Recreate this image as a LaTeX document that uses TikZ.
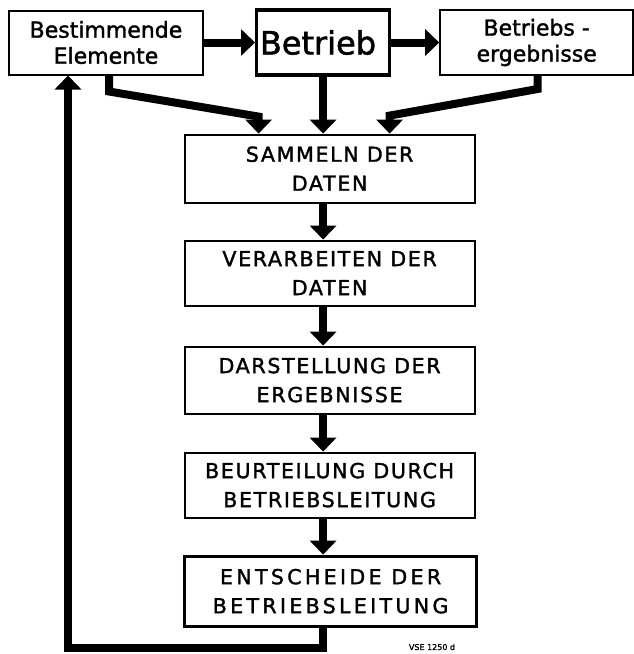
\documentclass[tikz,border=0pt]{standalone}
\usepackage{fontspec}
\setmainfont[FakeBold=1.6]{DejaVu Sans}
\newfontfamily\capsfont[LetterSpace=8,FakeBold=1.6]{DejaVu Sans}
\newfontfamily\widecapsfont[LetterSpace=16,FakeBold=1.6]{DejaVu Sans}
\usepackage{tikz}
\usetikzlibrary{shapes,arrows.meta,positioning,calc}

\tikzset{
    topbox/.style={rectangle, draw, line width=2pt, align=center, inner sep=0pt,
        minimum width=194pt, minimum height=64pt, font=\fontsize{22}{26}\selectfont},
    stagebox/.style={rectangle, draw, line width=2pt, align=center, inner sep=0pt,
        minimum width=290pt, minimum height=66pt, font=\capsfont\fontsize{20.6}{29}\selectfont},
    heavy/.style={line width=3.2pt},
    flow/.style={line width=8pt, -{Triangle[width=26pt,length=14pt]}}
}

\begin{document}
\begin{tikzpicture}[x=1pt, y=1pt]

    \useasboundingbox (0,0) rectangle (633,-654);

    	%-----Boxes-----
        % Bestimmende Elemente
        \node [topbox] (best) at (106,-42.5) {%
            Bestimmende \\
            Elemente
        };

        % Betrieb
        \node [topbox, heavy, minimum width=133pt, minimum height=65pt, right=51pt of best,
            font=\fontsize{32}{36}\selectfont] (betrieb) {%
            Betrieb
        };

        % Betriebsergebnisse
        \node [topbox, minimum width=193pt, minimum height=65pt, right=48pt of betrieb] (ergeb) {%
            Betriebs - \\
            ergebnisse
        };

        % Sammeln
        \node [stagebox, minimum height=68pt, below=57pt of betrieb, xshift=6.5pt] (sammeln) {%
            SAMMELN DER \\
            DATEN
        };

        % Verarbeiten
        \node [stagebox, minimum height=65pt, below=36pt of sammeln] (verarb) {%
            VERARBEITEN DER \\
            DATEN
        };

        % Darstellung
        \node [stagebox, minimum height=67pt, below=39pt of verarb] (darst) {%
            DARSTELLUNG DER \\
            ERGEBNISSE
        };

        % Beurteilung
        \node [stagebox, minimum height=65pt, below=37pt of darst] (beurt) {%
            BEURTEILUNG DURCH \\
            BETRIEBSLEITUNG
        };

        % Entscheide
        \node [stagebox, heavy, minimum width=292pt, minimum height=70pt, below=36pt of beurt,
            xshift=1pt, font=\widecapsfont\fontsize{20.6}{29}\selectfont] (entsch) {%
            ENTSCHEIDE DER \\
            BETRIEBSLEITUNG
        };

        % Bildnummer
        \node [font=\fontsize{8}{10}\selectfont] (vse) at (432,-647) {VSE 1250 d};

    	%-----Arrows-----
        \draw [flow] (best.east) -- (best.east -| betrieb.west);
        \draw [flow] (betrieb.east) -- (betrieb.east -| ergeb.west);
        \draw [flow] (betrieb.south) -- (sammeln.north -| betrieb);
        \draw [flow] ($(best.south)+(3,0)$) -- ++(0,-16)
            -- ($(sammeln.north)+(-71,17)$) -- ($(sammeln.north)+(-71,0)$);
        \draw [flow] ($(ergeb.south)+(1,0)$) -- ++(0,-13)
            -- ($(sammeln.north)+(60,18)$) -- ($(sammeln.north)+(60,0)$);
        \foreach \a/\b in {sammeln/verarb, verarb/darst, darst/beurt, beurt/entsch}
            \draw [flow] (\a.south -| betrieb) -- (\b.north -| betrieb);

        % Rueckfuehrung
        \coordinate (ruck) at (68,-648);
        \draw [flow] (entsch.south -| betrieb) |- (ruck) -- (ruck |- best.south);

\end{tikzpicture}
\end{document}
